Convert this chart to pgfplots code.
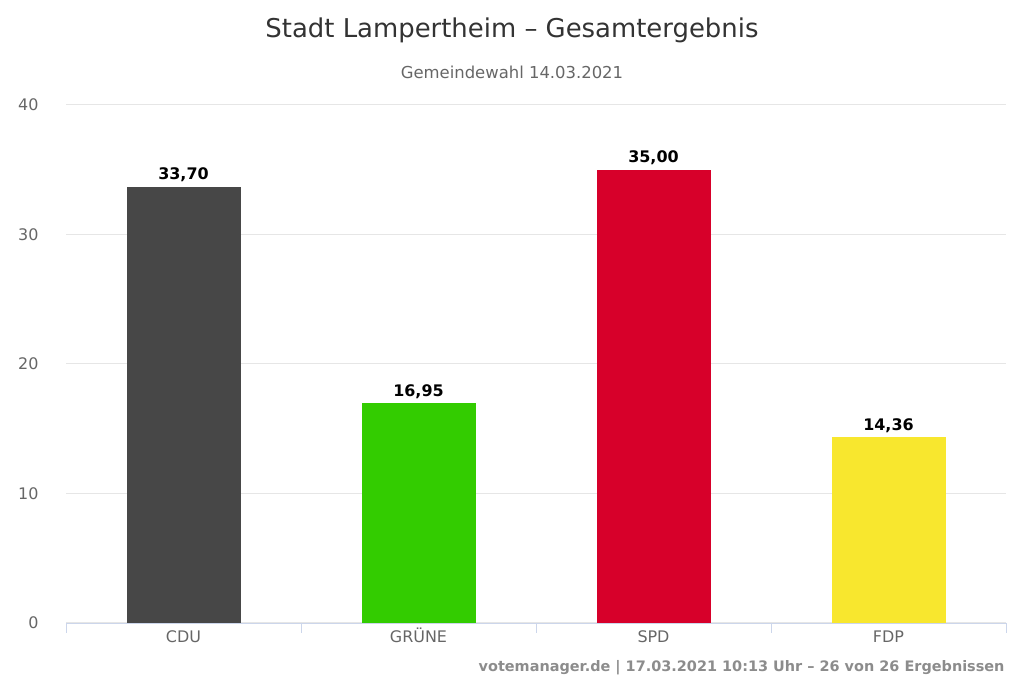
\documentclass[border=0pt]{standalone}
\usepackage{pgfplots}
\pgfplotsset{compat=1.18}
\usepackage{fontspec}
\setmainfont{DejaVu Sans}
\definecolor{cdu}{HTML}{474747}
\definecolor{gruene}{HTML}{33CC00}
\definecolor{spd}{HTML}{D7002A}
\definecolor{fdp}{HTML}{F8E72E}
\definecolor{gridc}{HTML}{E6E6E6}
\definecolor{axl}{HTML}{CCD6EB}
\definecolor{tl}{HTML}{666666}
\begin{document}
\begin{tikzpicture}[x=1bp,y=1bp]
\path[use as bounding box] (0,0) rectangle (1024,683);
\node[text=black!80,font=\fontsize{26}{30}\selectfont] at (512,653) {Stadt Lampertheim – Gesamtergebnis};
\node[text=tl,font=\fontsize{16.5}{20}\selectfont] at (512,611) {Gemeindewahl 14.03.2021};
\begin{axis}[at={(66bp,60bp)},anchor=south west,scale only axis,width=940bp,height=518bp,
 xmin=-0.5,xmax=3.5,ymin=0,ymax=40,ytick={0,10,20,30,40},
 axis line style={draw=none},
 ymajorgrids, xmajorgrids=false, major grid style={draw=gridc,line width=1pt},
 xtick={0,1,2,3},xticklabels={CDU,GRÜNE,SPD,FDP},
 major tick length=0pt,
 xticklabel style={text height=15bp,text depth=4bp,yshift=-1bp},
 yticklabels={},
 ticklabel style={text=tl,font=\fontsize{16}{19}\selectfont},
 bar width=114bp, ybar, bar shift=0pt,
 nodes near coords={\pgfmathprintnumber[fixed,fixed zerofill,precision=2,use comma,assume math mode=true]{\pgfplotspointmeta}},
 nodes near coords style={font=\bfseries\fontsize{16}{19}\selectfont,text=black,yshift=1bp},
 clip=false]
\addplot[fill=cdu,draw=none] coordinates {(0,33.70)};
\addplot[fill=gruene,draw=none] coordinates {(1,16.95)};
\addplot[fill=spd,draw=none] coordinates {(2,35.00)};
\addplot[fill=fdp,draw=none] coordinates {(3,14.36)};
\draw[axl] (axis cs:-0.5,0) -- (axis cs:3.5,0);
\pgfplotsinvokeforeach{-0.5,0.5,1.5,2.5,3.5}{
  \draw[axl] (axis cs:#1,0) -- ([yshift=-10bp]axis cs:#1,0);}
\end{axis}
\foreach \v/\yy in {0/60,10/189.5,20/319,30/448.5,40/578}
  \node[anchor=east,text=tl,font=\fontsize{16}{19}\selectfont] at (42,\yy) {\v};
\node[anchor=east,text=black!45,font=\bfseries\fontsize{14.5}{17}\selectfont] at (1008,15) {votemanager.de | 17.03.2021 10:13 Uhr – 26 von 26 Ergebnissen};
\end{tikzpicture}
\end{document}
